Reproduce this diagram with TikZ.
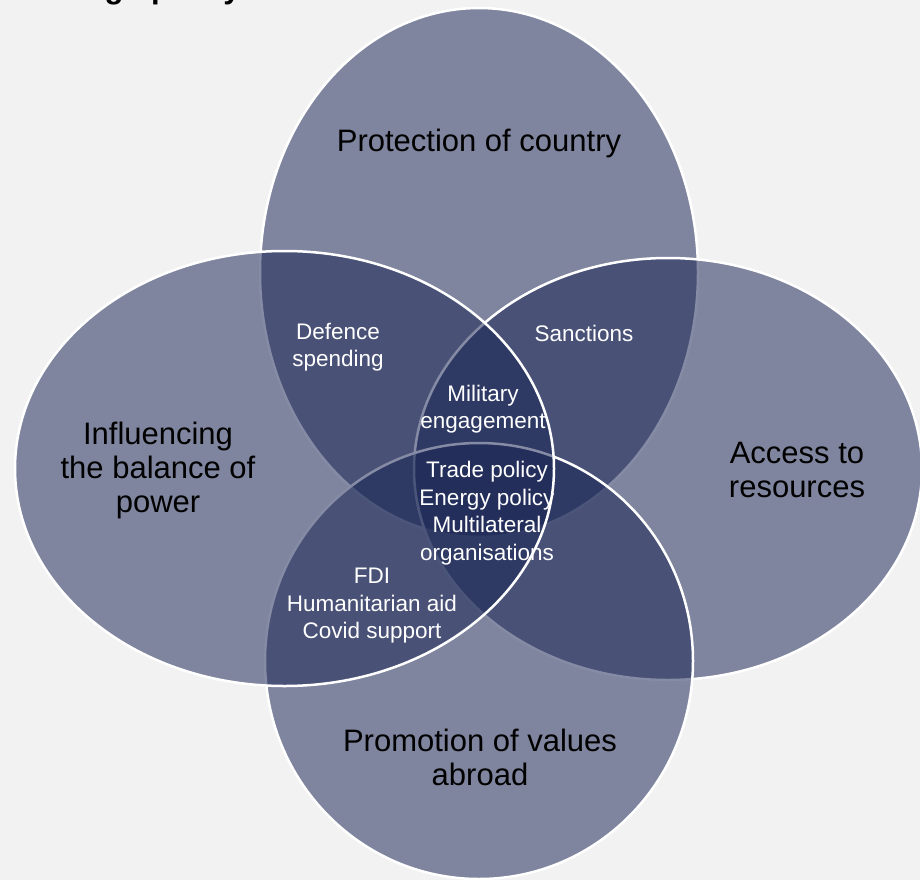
\documentclass[tikz,border=0pt]{standalone}
\usepackage{fontspec}
\setmainfont{Liberation Sans}
\definecolor{bgc}{RGB}{242,242,242}
\definecolor{vennc}{RGB}{25,37,84}
\begin{document}
\begin{tikzpicture}[x=1pt,y=-1pt,
  venn/.style={fill=vennc, fill opacity=0.53, draw=white, line width=2.5pt},
  outer/.style={align=center, font=\fontsize{31}{34}\selectfont, text=black, inner sep=0pt},
  inner/.style={align=center, font=\fontsize{22.5}{27.5}\selectfont, text=white, inner sep=0pt}]
\useasboundingbox (0,0) rectangle (920,880);
\fill[bgc] (0,0) rectangle (920,880);
\begin{scope}
\clip (0,0) rectangle (920,880);
\node[anchor=base west, font=\bfseries\fontsize{31}{34}\selectfont, inner sep=0pt] (title) at (28.6,-1.2) {Foreign policy aims};
% ellipses, drawn in stacking order
\path[venn] (479,272.5) ellipse [x radius=219, y radius=264.5];
\path[venn] (668,469) ellipse [x radius=254, y radius=211];
\path[venn] (479,661) ellipse [x radius=214, y radius=218];
\path[venn] (284.5,468.5) ellipse [x radius=269.5, y radius=217.5];
% outer labels
\node[outer] (prot) at (479,143) {Protection of country};
\node[outer] (infl) at (158,470) {Influencing\\the balance of\\power};
\node[outer] (acc) at (797,470) {Access to\\resources};
\node[outer] (promo) at (480,757) {Promotion of values\\abroad};
% inner labels
\node[inner] (def) at (338,347) {Defence\\spending};
\node[inner] (sanc) at (584,333) {Sanctions};
\node[inner] (mil) at (483,409) {Military\\engagement};
\node[inner] (trade) at (487,513) {Trade policy\\Energy policy\\Multilateral\\organisations};
\node[inner] (fdi) at (372,606) {FDI\\Humanitarian aid\\Covid support};
\end{scope}
\end{tikzpicture}
\end{document}
